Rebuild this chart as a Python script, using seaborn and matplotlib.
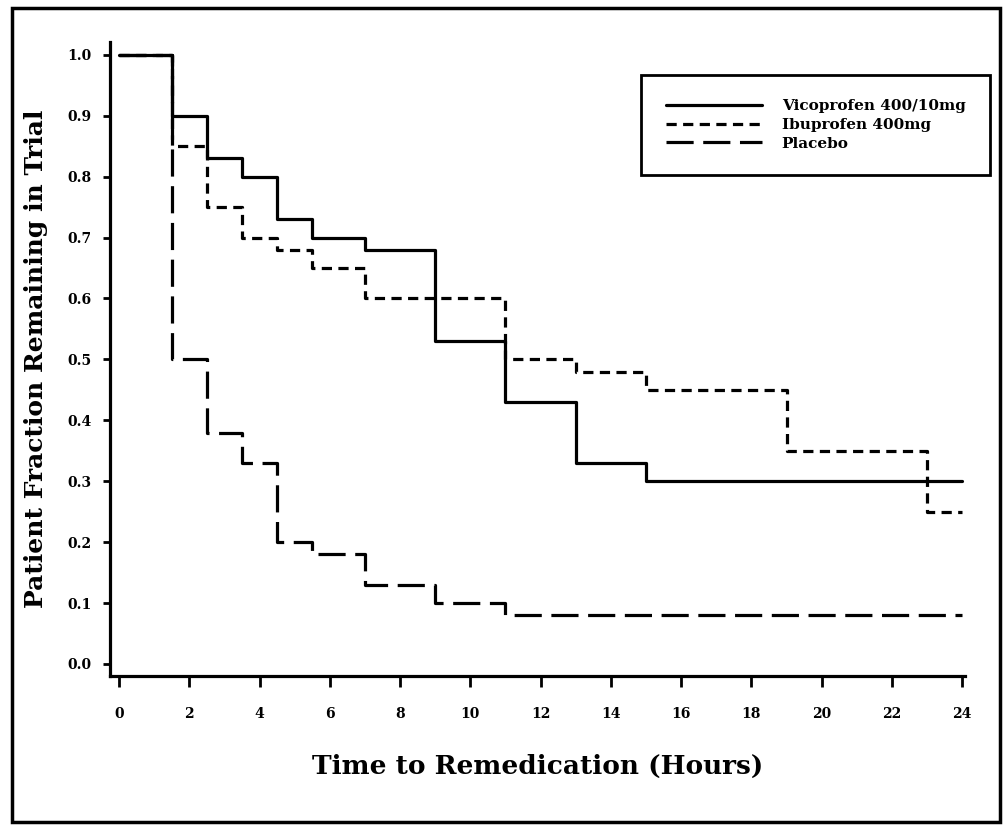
import pandas as pd
import seaborn as sns
import matplotlib.pyplot as plt
from matplotlib.patches import Rectangle

# ---------------------------
# Data (Kaplan-Meier style step curves)
# ---------------------------
vico_time = [0, 1.5, 2.5, 3.5, 4.5, 5.5, 7, 9, 11, 13, 15, 24]
vico_frac = [1.0, 0.90, 0.83, 0.80, 0.73, 0.70, 0.68, 0.53, 0.43, 0.33, 0.30, 0.30]

ibu_time = [0, 1.5, 2.5, 3.5, 4.5, 5.5, 7, 11, 13, 15, 19, 23, 24]
ibu_frac = [1.0, 0.85, 0.75, 0.70, 0.68, 0.65, 0.60, 0.50, 0.48, 0.45, 0.35, 0.25, 0.25]

plac_time = [0, 1.5, 2.5, 3.5, 4.5, 5.5, 7, 9, 11, 24]
plac_frac = [1.0, 0.50, 0.38, 0.33, 0.20, 0.18, 0.13, 0.10, 0.08, 0.08]

labels = ["Vicoprofen 400/10mg", "Ibuprofen 400mg", "Placebo"]
x_ticks = list(range(0, 25, 2))
y_ticks = [i / 10 for i in range(11)]

sns.set_style("ticks")
plt.rcParams["font.family"] = ["DejaVu Serif"]
plt.rcParams["font.weight"] = "bold"
for key in ["text.color", "axes.labelcolor", "xtick.color", "ytick.color", "axes.edgecolor"]:
    plt.rcParams[key] = "black"

W, H = 1005, 826
fig = plt.figure(figsize=(W / 100, H / 100), dpi=100)
ax = fig.add_axes([110 / W, (H - 676) / H, (965 - 110) / W, (676 - 42) / H])

series = [
    (vico_time, vico_frac, labels[0], "-"),
    (ibu_time, ibu_frac, labels[1], (0, (3.2, 2.0))),
    (plac_time, plac_frac, labels[2], (0, (8.5, 3))),
]
for t, f, lab, ls in series:
    df = pd.DataFrame({"time": t, "frac": f})
    sns.lineplot(data=df, x="time", y="frac", ax=ax, drawstyle="steps-post",
                 color="black", linewidth=2.3, linestyle=ls, label=lab)

ax.set_xlim(-0.256, 24.08)
ax.set_ylim(-0.0197, 1.021)
ax.set_xticks(x_ticks)
ax.set_xticklabels([str(v) for v in x_ticks])
ax.set_yticks(y_ticks)
ax.set_yticklabels([f"{v:.1f}" for v in y_ticks])

sns.despine(ax=ax)
for side in ["left", "bottom"]:
    ax.spines[side].set_linewidth(2.3)
ax.tick_params(axis="x", length=8, width=2, pad=14, labelsize=10)
ax.tick_params(axis="y", length=5, width=2, pad=8, labelsize=10)
for lbl in ax.get_xticklabels() + ax.get_yticklabels():
    lbl.set_fontweight("bold")

ax.set_xlabel("Time to Remedication (Hours)", fontsize=19, fontweight="bold", labelpad=24)
ax.set_ylabel("Patient Fraction Remaining in Trial", fontsize=18, fontweight="bold", labelpad=14)

leg = ax.legend(loc="upper right", bbox_to_anchor=(990 / W, 1 - 75 / H),
                bbox_transform=fig.transFigure, borderaxespad=0,
                fancybox=False, framealpha=1, edgecolor="black",
                handlelength=6.3, handletextpad=1.3,
                prop={"weight": "bold", "size": 11},
                labelspacing=0.3, borderpad=1.6)
leg.get_frame().set_linewidth(2)

# outer border around the whole figure
fig.patches.append(Rectangle((12 / W, 4 / H), (1000 - 12) / W, (822 - 8) / H,
                             transform=fig.transFigure, fill=False,
                             edgecolor="black", linewidth=2.5))

fig.savefig("out.png", dpi=100)
